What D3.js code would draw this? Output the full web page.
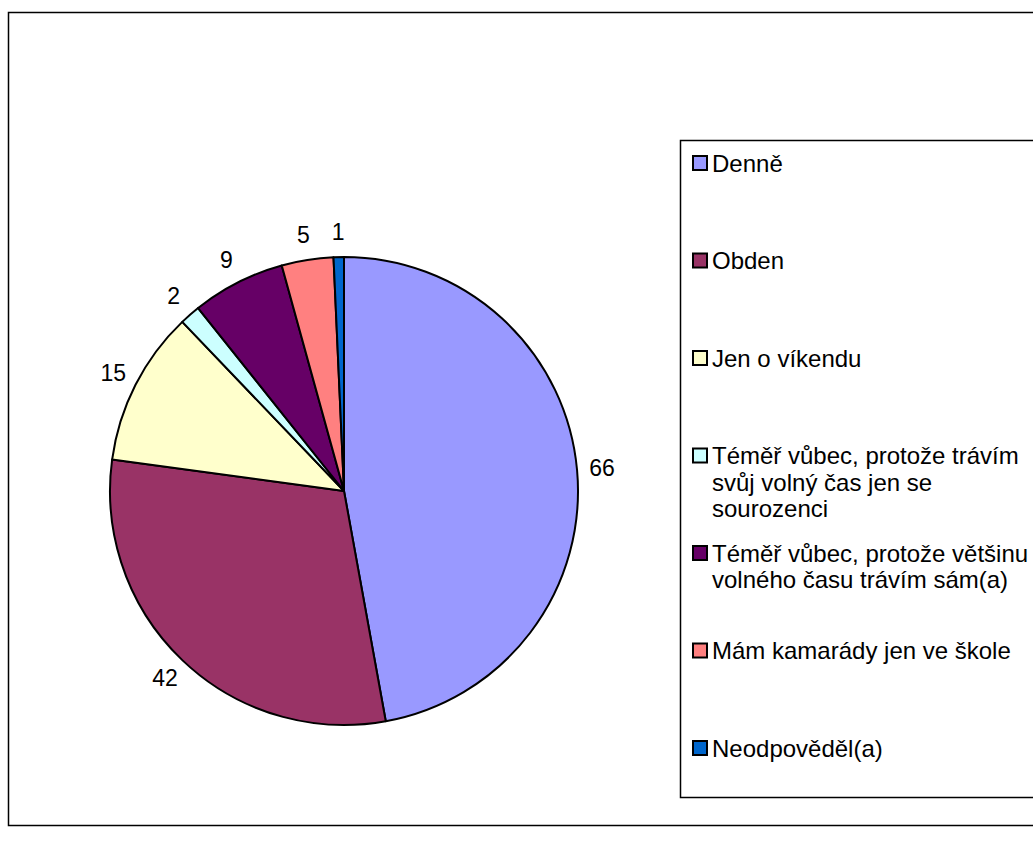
<!DOCTYPE html>
<html>
<head>
<meta charset="utf-8">
<script src="https://cdn.jsdelivr.net/npm/d3@7"></script>
<style>
  html, body { margin: 0; padding: 0; background: #fff; }
  svg { display: block; font-family: "Liberation Sans", Arial, sans-serif; }
</style>
</head>
<body>
<svg id="chart" width="1033" height="866"></svg>
<script>
// Answer categories, in drawing order (clockwise from 12 o'clock)
const categories = [
  "Denně",
  "Obden",
  "Jen o víkendu",
  "Téměř vůbec, protože trávím svůj volný čas jen se sourozenci",
  "Téměř vůbec, protože většinu volného času trávím sám(a)",
  "Mám kamarády jen ve škole",
  "Neodpověděl(a)"
];
// Number of respondents per category
const counts = [66, 42, 15, 2, 9, 5, 1];
// Slice / legend fill colours
const colors = ["#9999FF", "#993366", "#FFFFCC", "#CCFFFF", "#660066", "#FF8080", "#0066CC"];

const svg = d3.select("#chart");

// Chart frame
svg.append("rect")
  .attr("x", 8.5).attr("y", 12.5)
  .attr("width", 1060).attr("height", 813)
  .attr("fill", "#fff").attr("stroke", "#000").attr("stroke-width", 1.5);

// Pie
const cx = 344, cy = 491, radius = 234;
const data = categories.map((c, i) => ({ name: c, value: counts[i], color: colors[i] }));
const pie = d3.pie().value(d => d.value).sort(null);
const arc = d3.arc().innerRadius(0).outerRadius(radius);
const arcs = pie(data);

const g = svg.append("g").attr("transform", `translate(${cx},${cy})`);
g.selectAll("path.slice")
  .data(arcs)
  .join("path")
  .attr("class", "slice")
  .attr("d", arc)
  .attr("fill", d => d.data.color)
  .attr("stroke", "#000")
  .attr("stroke-width", 2)
  .attr("stroke-linejoin", "round");

// Value labels outside the slices
const labelArc = d3.arc().innerRadius(radius + 25).outerRadius(radius + 25);
g.selectAll("text.value")
  .data(arcs)
  .join("text")
  .attr("class", "value")
  .attr("transform", d => `translate(${labelArc.centroid(d)})`)
  .attr("text-anchor", "middle")
  .attr("dy", "0.35em")
  .attr("font-size", 23)
  .attr("fill", "#000")
  .text(d => d.data.value);

// Legend
const legendX = 680, legendY = 140, step = 97.5, lineH = 26.5, maxTextW = 330;
svg.append("rect")
  .attr("x", legendX + 0.5).attr("y", legendY + 0.5)
  .attr("width", 400).attr("height", 657)
  .attr("fill", "#fff").attr("stroke", "#000").attr("stroke-width", 1.5);

const items = svg.append("g").selectAll("g.item")
  .data(data)
  .join("g")
  .attr("class", "item")
  .attr("transform", (d, i) => `translate(${legendX}, ${legendY + 15 + i * step})`);

items.append("rect")
  .attr("x", 13).attr("y", 1)
  .attr("width", 14).attr("height", 14)
  .attr("fill", d => d.color)
  .attr("stroke", "#000").attr("stroke-width", 2);

items.each(function(d) {
  const t = d3.select(this).append("text")
    .attr("x", 32).attr("y", 16.5)
    .attr("font-size", 24)
    .attr("fill", "#000");
  const words = d.name.split(" ");
  let line = [];
  let tspan = t.append("tspan").attr("x", 32).attr("dy", 0);
  words.forEach(w => {
    line.push(w);
    tspan.text(line.join(" "));
    if (tspan.node().getComputedTextLength() > maxTextW && line.length > 1) {
      line.pop();
      tspan.text(line.join(" "));
      line = [w];
      tspan = t.append("tspan").attr("x", 32).attr("dy", lineH).text(w);
    }
  });
});
</script>
</body>
</html>
